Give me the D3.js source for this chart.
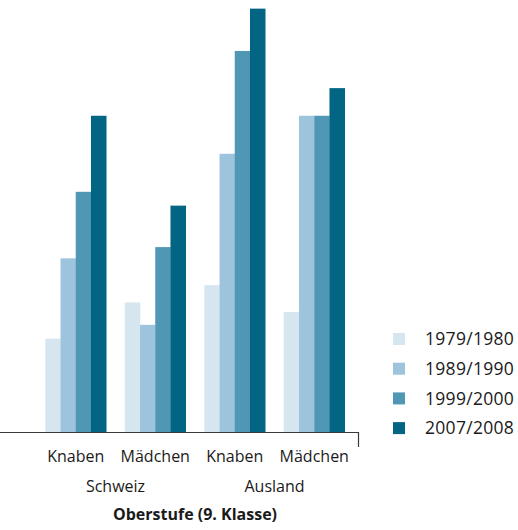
<!DOCTYPE html>
<html>
<head>
<meta charset="utf-8">
<script src="https://cdn.jsdelivr.net/npm/d3@7"></script>
<style>
  html, body { margin: 0; padding: 0; background: #fff; }
  svg { display: block; font-family: "Open Sans", sans-serif; }
</style>
</head>
<body>
<svg id="chart" width="518" height="530"></svg>
<script>
// Groups along the x axis (pupil groups), nested by origin
const groups = ["Knaben", "Mädchen", "Knaben ", "Mädchen "];
const groupLabels = ["Knaben", "Mädchen", "Knaben", "Mädchen"];
const origins = ["Schweiz", "Ausland"];
const years = ["1979/1980", "1989/1990", "1999/2000", "2007/2008"];
const colors = ["#d6e6f1", "#9dc4dc", "#5096b5", "#036584"];

// Values per year, in the order of the groups
const v1979 = [10.8, 15.0, 17.0, 13.9];
const v1989 = [20.1, 12.4, 32.2, 36.6];
const v1999 = [27.8, 21.4, 44.1, 36.6];
const v2007 = [36.6, 26.2, 49.0, 39.8];
const series = [v1979, v1989, v1999, v2007];

const title = "Oberstufe (9. Klasse)";

const svg = d3.select("#chart");
const baseY = 432;

const x0 = d3.scaleBand().domain(groups).range([36, 354])
  .paddingInner(0.234).paddingOuter(0.117);
const x1 = d3.scaleBand().domain(years).range([0, x0.bandwidth()]);
const y = d3.scaleLinear().domain([0, 50]).range([baseY, 0]);

// Bars
const gGroups = svg.append("g").selectAll("g")
  .data(groups)
  .join("g")
  .attr("transform", d => `translate(${x0(d)},0)`);

gGroups.selectAll("rect")
  .data((g, gi) => years.map((yr, si) => ({ yr, si, v: series[si][gi] })))
  .join("rect")
  .attr("x", d => x1(d.yr))
  .attr("width", x1.bandwidth() + 0.3)
  .attr("y", d => y(d.v))
  .attr("height", d => y(0) - y(d.v))
  .attr("fill", d => colors[d.si]);

// Baseline with a closing tick at the right end
const axisEnd = 358;
svg.append("path")
  .attr("d", `M0,${baseY + 0.5}H${axisEnd + 0.5}V${baseY + 15}`)
  .attr("fill", "none")
  .attr("stroke", "#3a3a3a")
  .attr("stroke-width", 1.2);

// Group labels
svg.append("g").selectAll("text")
  .data(groups)
  .join("text")
  .attr("x", d => x0(d) + x0.bandwidth() / 2)
  .attr("y", 462)
  .attr("text-anchor", "middle")
  .attr("font-size", 16)
  .attr("fill", "#1a1a1a")
  .text((d, i) => groupLabels[i]);

// Origin labels, centred under each pair of groups
svg.append("g").selectAll("text")
  .data(origins)
  .join("text")
  .attr("x", (d, i) => {
    const a = x0(groups[i * 2]) + x0.bandwidth() / 2;
    const b = x0(groups[i * 2 + 1]) + x0.bandwidth() / 2;
    return (a + b) / 2;
  })
  .attr("y", 492)
  .attr("text-anchor", "middle")
  .attr("font-size", 16)
  .attr("fill", "#1a1a1a")
  .text(d => d);

// Axis title
svg.append("text")
  .attr("x", (x0(groups[0]) + x0(groups[3]) + x0.bandwidth()) / 2)
  .attr("y", 520)
  .attr("text-anchor", "middle")
  .attr("font-size", 16)
  .attr("font-weight", "bold")
  .attr("fill", "#1a1a1a")
  .text(title);

// Legend
const legend = svg.append("g").selectAll("g")
  .data(years)
  .join("g")
  .attr("transform", (d, i) => `translate(393,${339 + i * 29.7})`);

legend.append("rect")
  .attr("x", 0).attr("y", -6)
  .attr("width", 12).attr("height", 12)
  .attr("fill", (d, i) => colors[i]);

legend.append("text")
  .attr("x", 32)
  .attr("y", 0)
  .attr("dy", "0.35em")
  .attr("font-size", 17.5)
  .attr("letter-spacing", 0.3)
  .attr("fill", "#1a1a1a")
  .text(d => d);
</script>
</body>
</html>
